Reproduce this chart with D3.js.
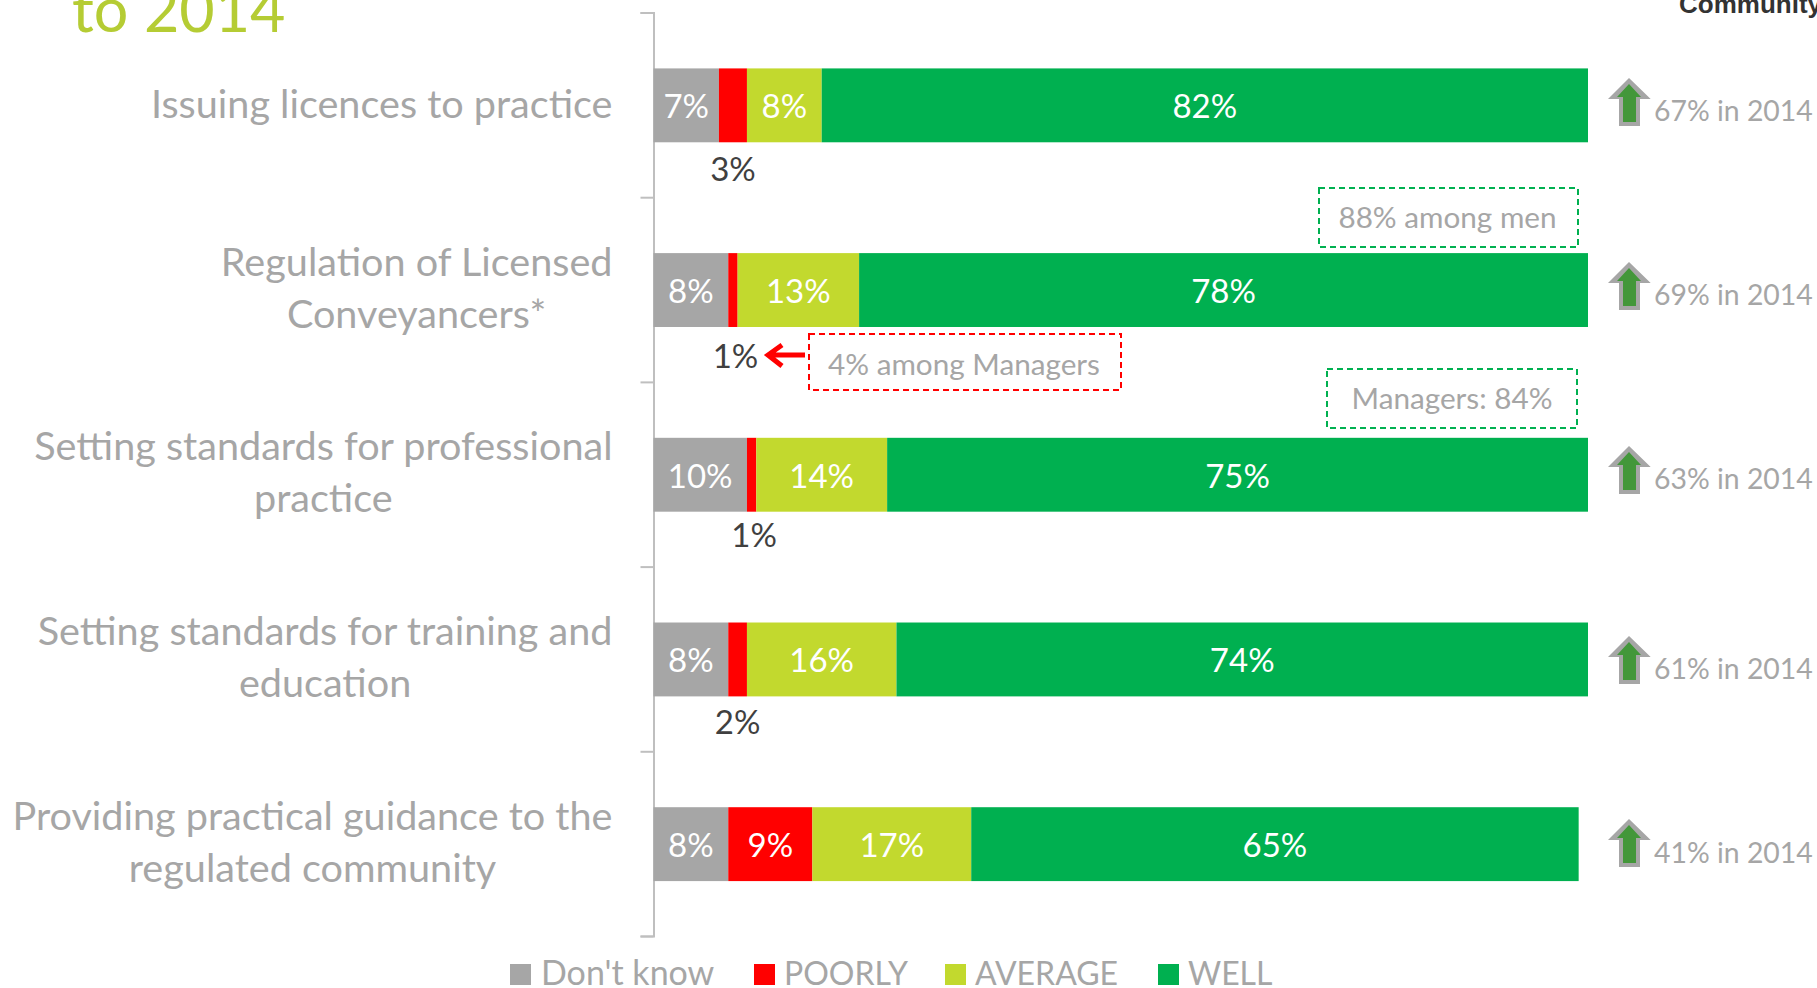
<!DOCTYPE html>
<html><head><meta charset="utf-8">
<script src="https://cdn.jsdelivr.net/npm/d3@7/dist/d3.min.js"></script>
<style>html,body{margin:0;padding:0;background:#fff;overflow:hidden}svg{display:block}text{font-family:Lato,sans-serif}</style>
</head><body><svg id="c" width="1817" height="988"></svg>
<script>
// Data
const categories=[["Issuing licences to practice"],["Regulation of Licensed","Conveyancers*"],["Setting standards for professional","practice"],["Setting standards for training and","education"],["Providing practical guidance to the","regulated community"]];
const seriesNames=["Don't know","POORLY","AVERAGE","WELL"];
const dontKnow=[7,8,10,8,8];
const poorly=[3,1,1,2,9];
const average=[8,13,14,16,17];
const well=[82,78,75,74,65];
const previous=["67% in 2014","69% in 2014","63% in 2014","61% in 2014","41% in 2014"];
const colours=["#A6A6A6","#FF0000","#C2D92E","#00B050"];
// Layout tweaks
const arrowTip=[78,262,446,636,819], prevBase=[121,305,489,679,863], poorlyBase=[181,368,547,734,null];
const F={cat:39.6,val:33,prev:28.4,box:29.7};

const svg=d3.select("#c");
const x=d3.scaleLinear().domain([0,100]).range([653.5,1588]);
const y=d3.scaleBand().domain(d3.range(5)).range([13,936.5]).paddingInner(0.6).paddingOuter(0.3);
const yAxisScale=d3.scaleLinear().domain([0,5]).range([12.5,936]);
const rows=d3.range(5).map(i=>{let c=0;return [dontKnow[i],poorly[i],average[i],well[i]].map((v,s)=>{const o={i,s,v,x0:c,x1:c+v};c+=v;return o;});});

const ax=svg.append("g").attr("transform","translate(653.5,0)").call(d3.axisLeft(yAxisScale).tickValues(d3.range(6)).tickFormat("").tickSize(13).tickSizeOuter(13));
ax.selectAll("path,line").attr("stroke","#BFBFBF").attr("stroke-width",2);

svg.append("g").selectAll("rect").data(rows.flat()).join("rect")
 .attr("x",d=>x(d.x0)).attr("width",d=>x(d.x1)-x(d.x0)).attr("y",d=>y(d.i)).attr("height",y.bandwidth()).attr("fill",d=>colours[d.s]);

svg.append("g").selectAll("text").data(rows.flat().filter(d=>d.s!==1||d.v>=5)).join("text")
 .attr("x",d=>x((d.x0+d.x1)/2)).attr("y",d=>y(d.i)+y.bandwidth()/2+13).attr("text-anchor","middle")
 .attr("font-size",F.val).attr("fill","#fff").text(d=>d.v+"%");

svg.append("g").selectAll("text").data(rows.flat().filter(d=>d.s===1&&d.v<5)).join("text")
 .attr("x",d=>x((d.x0+d.x1)/2)+(d.i==1||d.i==2?2.5:0)).attr("y",d=>poorlyBase[d.i]).attr("text-anchor","middle")
 .attr("font-size",F.val).attr("fill","#404040").text(d=>d.v+"%");

// Category labels: centred lines, block right-aligned
categories.forEach((lines,i)=>{
  const cy=y(i)+y.bandwidth()/2;
  const g=svg.append("g");
  const ts=lines.map((l,k)=>g.append("text").attr("font-size",F.cat).attr("fill","#A6A6A6").attr("text-anchor","middle")
     .attr("y",lines.length==1?cy+12.5:cy-14.5+52*k).text(l));
  const w=d3.max(ts,t=>t.node().getComputedTextLength());
  ts.forEach(t=>t.attr("x",612.5-w/2));
});

// Arrows + 2014 values
previous.forEach((p,i)=>{
  const t=arrowTip[i];
  const outer=[[1629,t],[1650.7,t+21],[1640,t+21],[1640,t+48],[1619,t+48],[1619,t+21],[1608,t+21]];
  const inner=[[1629,t+6],[1641,t+19],[1636,t+19],[1636,t+44],[1623,t+44],[1623,t+19],[1617,t+19]];
  svg.append("polygon").attr("points",outer.join(" ")).attr("fill","#A6A6A6");
  svg.append("polygon").attr("points",inner.join(" ")).attr("fill","#43973A");
  svg.append("text").attr("x",1654).attr("y",prevBase[i]).attr("font-size",F.prev).attr("fill","#A6A6A6").text(p);
});

// Callouts
const callouts=[
 {t:"88% among men",x0:1319,x1:1578,y0:188,y1:247,tx:1447.5,by:228,c:"#00B050"},
 {t:"Managers: 84%",x0:1327,x1:1577,y0:369,y1:428,tx:1452,by:409,c:"#00B050"},
 {t:"4% among Managers",x0:809,x1:1121,y0:334,y1:390,tx:964,by:375,c:"#FF0000"}];
callouts.forEach(d=>{
  svg.append("rect").attr("x",d.x0).attr("y",d.y0).attr("width",d.x1-d.x0).attr("height",d.y1-d.y0).attr("fill","none").attr("stroke",d.c).attr("stroke-width",2).attr("stroke-dasharray","6 4");
  svg.append("text").attr("x",d.tx).attr("y",d.by).attr("text-anchor","middle").attr("font-size",F.box).attr("fill","#A6A6A6").text(d.t);
});
// Red arrow
svg.append("path").attr("d","M805,355H770M782,345L768,355L782,366").attr("fill","none").attr("stroke","#FF0000").attr("stroke-width",5);

// Legend
const legendX=[510,754,945,1158];
const legendSize=[34,32,32,32];
seriesNames.forEach((n,i)=>{
  svg.append("rect").attr("x",legendX[i]).attr("y",964).attr("width",21).attr("height",21).attr("fill",colours[i]);
  svg.append("text").attr("x",legendX[i]+(i==0?31:30)).attr("y",985).attr("font-size",legendSize[i]).attr("fill","#A6A6A6").text(n);
});

// Cropped title and header
svg.append("text").attr("x",72).attr("y",32).attr("font-size",61).attr("fill","#B5CC34").text("to 2014");
svg.append("text").attr("x",1679).attr("y",13).attr("font-size",26).attr("font-weight","bold").style("font-family","Liberation Sans").attr("fill","#333").text("Community");
</script></body></html>
